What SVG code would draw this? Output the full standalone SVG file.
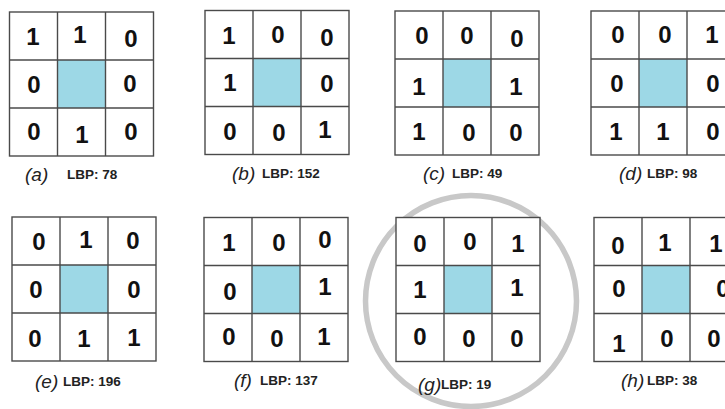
<svg xmlns="http://www.w3.org/2000/svg" xmlns:xlink="http://www.w3.org/1999/xlink" width="725" height="409" viewBox="0 0 725 409">
<style>
.d{font-family:"Liberation Sans",Arial,sans-serif;font-weight:bold;font-size:24px;fill:#111;text-anchor:middle}
.i{font-family:"Liberation Sans",Arial,sans-serif;font-style:italic;font-size:19px;fill:#222}
.l{font-family:"Liberation Sans",Arial,sans-serif;font-weight:bold;font-size:13.5px;fill:#222}
</style>
<defs>
<g id="grid">
<rect x="0" y="0" width="144" height="144" fill="#fff"/>
<rect x="48" y="48" width="48" height="48" fill="#9dd8e6"/>
<g fill="none" stroke="#4a4a4a" stroke-width="1.4">
<rect x="0" y="0" width="144" height="144"/>
<line x1="48" y1="0" x2="48" y2="144"/>
<line x1="96" y1="0" x2="96" y2="144"/>
<line x1="0" y1="48" x2="144" y2="48"/>
<line x1="0" y1="96" x2="144" y2="96"/>
</g>
</g>
</defs>
<rect width="725" height="409" fill="#fff"/>
<circle id="highlight" cx="471" cy="301" r="105.5" fill="none" stroke="#c8c8c8" stroke-width="5.5"/>

<g id="panel-a">
<use xlink:href="#grid" x="9.5" y="12"/>
<text class="d" x="33" y="45">1</text><text class="d" x="80" y="43">1</text><text class="d" x="131" y="47">0</text>
<text class="d" x="34" y="93">0</text><text class="d" x="130" y="92">0</text>
<text class="d" x="34" y="140">0</text><text class="d" x="82" y="143">1</text><text class="d" x="131" y="140">0</text>
<text class="i" x="25" y="181">(a)</text><text class="l" x="67" y="179">LBP: 78</text>
</g>

<g id="panel-b">
<use xlink:href="#grid" x="205" y="10.5"/>
<text class="d" x="229" y="44">1</text><text class="d" x="278" y="43">0</text><text class="d" x="327" y="46">0</text>
<text class="d" x="230" y="91">1</text><text class="d" x="327" y="92">0</text>
<text class="d" x="230" y="140">0</text><text class="d" x="279" y="141">0</text><text class="d" x="325" y="138">1</text>
<text class="i" x="232" y="180">(b)</text><text class="l" x="262" y="178">LBP: 152</text>
</g>

<g id="panel-c">
<use xlink:href="#grid" x="395" y="11"/>
<text class="d" x="422" y="44">0</text><text class="d" x="467" y="44">0</text><text class="d" x="517" y="47">0</text>
<text class="d" x="419" y="95">1</text><text class="d" x="516" y="95">1</text>
<text class="d" x="419" y="140">1</text><text class="d" x="469" y="141">0</text><text class="d" x="516" y="141">0</text>
<text class="i" x="423" y="180">(c)</text><text class="l" x="452" y="178">LBP: 49</text>
</g>

<g id="panel-d">
<use xlink:href="#grid" x="591" y="11"/>
<text class="d" x="618" y="43">0</text><text class="d" x="665" y="43">0</text><text class="d" x="712" y="43">1</text>
<text class="d" x="617" y="92">0</text><text class="d" x="713" y="92">0</text>
<text class="d" x="616" y="140">1</text><text class="d" x="663" y="140">1</text><text class="d" x="713" y="140">0</text>
<text class="i" x="619" y="180">(d)</text><text class="l" x="647" y="178">LBP: 98</text>
</g>

<g id="panel-e">
<use xlink:href="#grid" x="12" y="217"/>
<text class="d" x="39" y="250">0</text><text class="d" x="86" y="248">1</text><text class="d" x="133" y="249">0</text>
<text class="d" x="36" y="298">0</text><text class="d" x="134" y="298">0</text>
<text class="d" x="35" y="347">0</text><text class="d" x="84" y="347">1</text><text class="d" x="134" y="346">1</text>
<text class="i" x="35" y="388">(e)</text><text class="l" x="63" y="386">LBP: 196</text>
</g>

<g id="panel-f">
<use xlink:href="#grid" x="204" y="217.5"/>
<text class="d" x="229" y="251">1</text><text class="d" x="279" y="251">0</text><text class="d" x="325" y="248">0</text>
<text class="d" x="230" y="300">0</text><text class="d" x="325" y="295">1</text>
<text class="d" x="229" y="345">0</text><text class="d" x="277" y="347">0</text><text class="d" x="324" y="345">1</text>
<text class="i" x="234" y="387">(f)</text><text class="l" x="260" y="385">LBP: 137</text>
</g>

<g id="panel-g">
<use xlink:href="#grid" x="396" y="217.5"/>
<text class="d" x="420" y="252">0</text><text class="d" x="470" y="250">0</text><text class="d" x="518" y="252">1</text>
<text class="d" x="420" y="298">1</text><text class="d" x="517" y="296">1</text>
<text class="d" x="420" y="345">0</text><text class="d" x="469" y="347">0</text><text class="d" x="517" y="347">0</text>
<text class="i" x="418" y="391">(g)</text><text class="l" x="441" y="389">LBP: 19</text>
</g>

<g id="panel-h">
<use xlink:href="#grid" x="594" y="217.5"/>
<text class="d" x="618" y="254">0</text><text class="d" x="665" y="251">1</text><text class="d" x="716" y="252">1</text>
<text class="d" x="619" y="297">0</text><text class="d" x="723" y="297">0</text>
<text class="d" x="619" y="352">1</text><text class="d" x="667" y="347">0</text><text class="d" x="714" y="347">0</text>
<text class="i" x="621" y="387">(h)</text><text class="l" x="647" y="385">LBP: 38</text>
</g>
</svg>
